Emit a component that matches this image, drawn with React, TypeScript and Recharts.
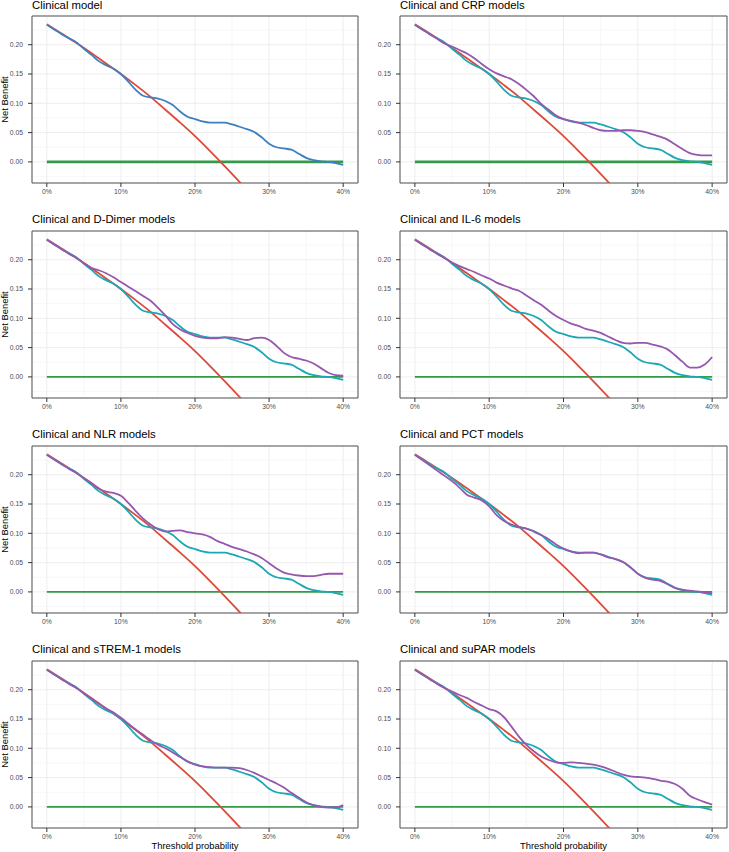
import * as React from "react";
import {
  LineChart,
  Line,
  XAxis,
  YAxis,
  CartesianGrid,
  ReferenceArea,
} from "recharts";

// threshold probabilities (x) for the model curves
const THRESHOLDS = [
  0, 0.01, 0.02, 0.03, 0.04, 0.05, 0.06, 0.07, 0.08, 0.09, 0.1, 0.11, 0.12, 0.13,
  0.14, 0.15, 0.16, 0.17, 0.18, 0.19, 0.2, 0.21, 0.22, 0.23, 0.24, 0.25, 0.26,
  0.27, 0.28, 0.29, 0.3, 0.31, 0.32, 0.33, 0.34, 0.35, 0.36, 0.37, 0.38, 0.39, 0.4,
];

const CLINICAL = [
  0.234, 0.226, 0.218, 0.211, 0.204, 0.193, 0.183, 0.172, 0.165, 0.159, 0.15, 0.137,
  0.123, 0.113, 0.11, 0.108, 0.104, 0.097, 0.086, 0.077, 0.073, 0.069, 0.067, 0.067,
  0.067, 0.064, 0.06, 0.056, 0.051, 0.042, 0.031, 0.025, 0.023, 0.021, 0.014, 0.007,
  0.003, 0.001, 0.0, -0.002, -0.005,
];

const CRP = [
  0.234, 0.226, 0.218, 0.21, 0.202, 0.197, 0.191, 0.185, 0.177, 0.167, 0.158, 0.151,
  0.146, 0.141, 0.133, 0.123, 0.112, 0.099, 0.089, 0.079, 0.073, 0.07, 0.067, 0.063,
  0.058, 0.054, 0.053, 0.053, 0.054, 0.054, 0.053, 0.051, 0.047, 0.043, 0.038, 0.03,
  0.022, 0.015, 0.012, 0.011, 0.011,
];

const D_DIMER = [
  0.234, 0.226, 0.218, 0.21, 0.203, 0.194, 0.186, 0.182, 0.177, 0.17, 0.162, 0.154,
  0.146, 0.138, 0.13, 0.118, 0.105, 0.09, 0.081, 0.075, 0.07, 0.067, 0.066, 0.066,
  0.068, 0.067, 0.065, 0.063, 0.066, 0.067, 0.063, 0.053, 0.041, 0.034, 0.031, 0.028,
  0.023, 0.015, 0.007, 0.003, 0.002,
];

const IL6 = [
  0.234, 0.226, 0.218, 0.21, 0.203, 0.195, 0.189, 0.184, 0.179, 0.173, 0.168, 0.161,
  0.156, 0.151, 0.147, 0.139, 0.131, 0.123, 0.113, 0.104, 0.097, 0.091, 0.087, 0.082,
  0.079, 0.075, 0.069, 0.063, 0.058, 0.057, 0.058, 0.058, 0.055, 0.052, 0.047, 0.037,
  0.026, 0.016, 0.016, 0.021, 0.034,
];

const NLR = [
  0.234, 0.226, 0.218, 0.21, 0.203, 0.194, 0.186, 0.176, 0.171, 0.169, 0.164, 0.152,
  0.138, 0.125, 0.115, 0.107, 0.103, 0.104, 0.105, 0.102, 0.1, 0.098, 0.094, 0.087,
  0.082, 0.077, 0.073, 0.069, 0.064, 0.058, 0.049, 0.04, 0.033, 0.03, 0.028, 0.027,
  0.027, 0.029, 0.031, 0.031, 0.031,
];

const PCT = [
  0.234, 0.225, 0.216, 0.207, 0.198, 0.189, 0.178, 0.166, 0.161, 0.156, 0.146, 0.131,
  0.121, 0.115, 0.111, 0.108, 0.103, 0.097, 0.09, 0.081, 0.074, 0.069, 0.066, 0.067,
  0.067, 0.064, 0.059, 0.056, 0.051, 0.042, 0.031, 0.024, 0.021, 0.019, 0.013, 0.007,
  0.004, 0.002, 0.001, -0.001, -0.002,
];

const STREM1 = [
  0.234, 0.226, 0.218, 0.21, 0.203, 0.194, 0.185, 0.176, 0.168, 0.161, 0.152, 0.142,
  0.132, 0.123, 0.114, 0.106, 0.1, 0.093, 0.085, 0.078, 0.072, 0.069, 0.068, 0.067,
  0.067, 0.067, 0.066, 0.063, 0.058, 0.052, 0.046, 0.04, 0.033, 0.024, 0.016, 0.008,
  0.003, 0.0, -0.001, -0.001, 0.003,
];

const SUPAR = [
  0.234, 0.226, 0.218, 0.21, 0.203, 0.197, 0.191, 0.186, 0.179, 0.173, 0.167, 0.163,
  0.153, 0.137, 0.12, 0.106, 0.095, 0.086, 0.08, 0.076, 0.075, 0.076, 0.075, 0.074,
  0.072, 0.069, 0.065, 0.06, 0.055, 0.052, 0.051, 0.05, 0.048, 0.045, 0.043, 0.039,
  0.031, 0.019, 0.013, 0.008, 0.004,
];

// "treat all" reference curve
const TREAT_ALL_X = [0, 0.02, 0.04, 0.06, 0.08, 0.1, 0.12, 0.14, 0.16, 0.18, 0.2, 0.22, 0.24, 0.26, 0.28];
const TREAT_ALL = [0.235, 0.219, 0.203, 0.186, 0.168, 0.15, 0.131, 0.111, 0.089, 0.067, 0.044, 0.019, -0.007, -0.034, -0.063];

// "treat none" reference line
const TREAT_NONE_X = [0, 0.4];
const TREAT_NONE = [0, 0];

const PANEL_TITLES = [
  "Clinical model",
  "Clinical and CRP models",
  "Clinical and D-Dimer models",
  "Clinical and IL-6 models",
  "Clinical and NLR models",
  "Clinical and PCT models",
  "Clinical and sTREM-1 models",
  "Clinical and suPAR models",
];
const PANEL_COMBOS: (number[] | null)[] = [null, CRP, D_DIMER, IL6, NLR, PCT, STREM1, SUPAR];

const X_TICKS = [0, 0.1, 0.2, 0.3, 0.4];
const X_MINOR = [0.05, 0.15, 0.25, 0.35];
const Y_TICKS = [0, 0.05, 0.1, 0.15, 0.2];
const Y_MINOR = [-0.025, 0.025, 0.075, 0.125, 0.175, 0.225];
const X_DOMAIN: [number, number] = [-0.02, 0.42];
const Y_DOMAIN: [number, number] = [-0.036, 0.249];

const RED = "#DE4A3A";
const GREEN = "#35994A";
const BLUE = "#3D7FBF";
const TEAL = "#1AA8B5";
const PURPLE = "#9657AE";

const FONT = '"Liberation Sans", Arial, Helvetica, sans-serif';

// layout
const COL_LEFT = [0, 364];
const PLOT_LEFT = [32, 400];
const PLOT_RIGHT = [358, 727];
const ROW_TOP = [16, 231, 446, 661];
const PLOT_H = 167;

const treatAllData = TREAT_ALL_X.map((t, i) => ({ t, v: TREAT_ALL[i] }));
const treatNoneData = TREAT_NONE_X.map((t, i) => ({ t, v: TREAT_NONE[i] }));

const pct = (v: number) => `${Math.round(v * 100)}%`;

interface PanelProps {
  index: number;
}

const Panel: React.FC<PanelProps> = ({ index }) => {
  const col = index % 2;
  const row = Math.floor(index / 2);
  const combo = PANEL_COMBOS[index];
  const bottom = row === 3;
  const xh = bottom ? 24 : 14;
  const width = PLOT_RIGHT[col] - COL_LEFT[col] + 2;
  const height = PLOT_H + 2 + xh;

  const modelData = THRESHOLDS.map((t, i) => ({
    t,
    clinical: CLINICAL[i],
    combo: combo ? combo[i] : null,
  }));

  return (
    <>
      <div
        style={{
          position: "absolute",
          left: PLOT_LEFT[col],
          top: Math.max(0, ROW_TOP[row] - 17.3),
          fontSize: 11.3,
          lineHeight: "11.3px",
          whiteSpace: "nowrap",
          color: "#000",
        }}
      >
        {PANEL_TITLES[index]}
      </div>
      <div style={{ position: "absolute", left: COL_LEFT[col], top: ROW_TOP[row] - 2 }}>
        <LineChart width={width} height={height} margin={{ top: 2, right: 2, bottom: 0, left: 0 }}>
          <CartesianGrid
            verticalValues={X_MINOR}
            horizontalValues={Y_MINOR}
            stroke="#F2F2F2"
            strokeWidth={0.6}
          />
          <CartesianGrid stroke="#EBEBEB" strokeWidth={0.9} />
          <XAxis
            type="number"
            dataKey="t"
            domain={X_DOMAIN}
            ticks={X_TICKS}
            interval={0}
            allowDataOverflow
            tickFormatter={pct}
            height={xh}
            axisLine={false}
            tickSize={4}
            tickMargin={2}
            tickLine={{ stroke: "#333333" }}
            tick={{ fontSize: 6.8, fill: "#4D4D4D" }}
            label={
              bottom
                ? { value: "Threshold probability", position: "insideBottom", offset: 3, fontSize: 9.4, fill: "#000" }
                : undefined
            }
          />
          <YAxis
            type="number"
            domain={Y_DOMAIN}
            ticks={Y_TICKS}
            interval={0}
            allowDataOverflow
            tickFormatter={(v: number) => v.toFixed(2)}
            width={PLOT_LEFT[col] - COL_LEFT[col]}
            axisLine={false}
            tickSize={4}
            tickMargin={5}
            tickLine={{ stroke: "#333333" }}
            tick={{ fontSize: 6.8, fill: "#4D4D4D" }}
            label={
              col === 0
                ? {
                    value: "Net Benefit",
                    angle: -90,
                    position: "insideLeft",
                    offset: 5,
                    fontSize: 9.4,
                    fill: "#000",
                    style: { textAnchor: "middle" },
                  }
                : undefined
            }
          />
          <Line
            data={treatNoneData}
            dataKey="v"
            type="linear"
            stroke={GREEN}
            strokeWidth={row === 0 ? 2.6 : 1.6}
            dot={false}
            activeDot={false}
            isAnimationActive={false}
          />
          <Line
            data={treatAllData}
            dataKey="v"
            type="monotone"
            stroke={RED}
            strokeWidth={1.8}
            dot={false}
            activeDot={false}
            isAnimationActive={false}
          />
          <Line
            data={modelData}
            dataKey="clinical"
            type="monotone"
            stroke={combo ? TEAL : BLUE}
            strokeWidth={1.8}
            dot={false}
            activeDot={false}
            isAnimationActive={false}
          />
          {combo ? (
            <Line
              data={modelData}
              dataKey="combo"
              type="monotone"
              stroke={PURPLE}
              strokeWidth={1.8}
              dot={false}
              activeDot={false}
              isAnimationActive={false}
            />
          ) : null}
          <ReferenceArea
            x1={X_DOMAIN[0]}
            x2={X_DOMAIN[1]}
            y1={Y_DOMAIN[0]}
            y2={Y_DOMAIN[1]}
            fill="none"
            stroke="#555555"
            strokeWidth={1}
            ifOverflow="visible"
          />
        </LineChart>
      </div>
    </>
  );
};

export default function App() {
  return (
    <div
      style={{
        position: "absolute",
        left: 0,
        top: 0,
        width: 729,
        height: 852,
        background: "#fff",
        fontFamily: FONT,
        overflow: "hidden",
      }}
    >
      {PANEL_TITLES.map((_, i) => (
        <Panel key={i} index={i} />
      ))}
    </div>
  );
}
